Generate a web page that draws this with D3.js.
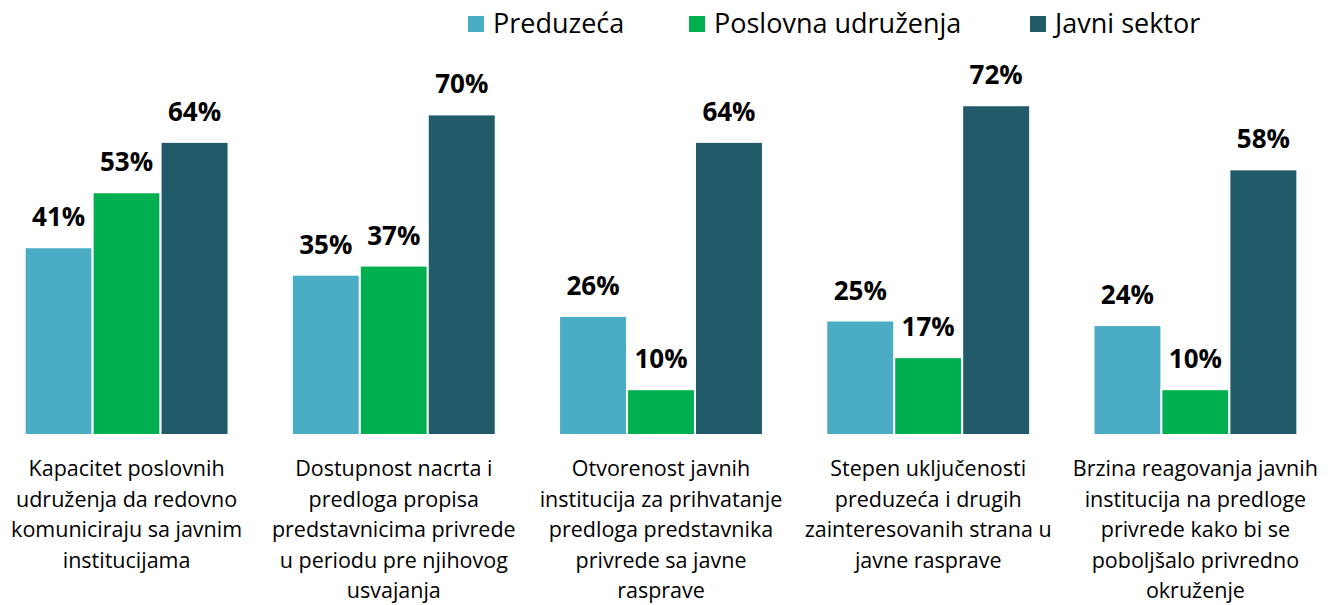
<!DOCTYPE html>
<html>
<head>
<meta charset="utf-8">
<script src="https://cdn.jsdelivr.net/npm/d3@7"></script>
<style>
  body { margin: 0; background: #fff; }
  svg { display: block; font-family: "Open Sans", "Noto Sans", sans-serif; }
</style>
</head>
<body>
<svg id="chart" width="1336" height="605"></svg>
<script>
// categories (wrapped as in the original)
var categories = [
  ["Kapacitet poslovnih", "udruženja da redovno", "komuniciraju sa javnim", "institucijama"],
  ["Dostupnost nacrta i", "predloga propisa", "predstavnicima privrede", "u periodu pre njihovog", "usvajanja"],
  ["Otvorenost javnih", "institucija za prihvatanje", "predloga predstavnika", "privrede sa javne", "rasprave"],
  ["Stepen uključenosti", "preduzeća i drugih", "zainteresovanih strana u", "javne rasprave"],
  ["Brzina reagovanja javnih", "institucija na predloge", "privrede kako bi se", "poboljšalo privredno", "okruženje"]
];
var seriesNames = ["Preduzeća", "Poslovna udruženja", "Javni sektor"];
var preduzeca = [41, 35, 26, 25, 24];
var poslovna = [53, 37, 10, 17, 10];
var javni = [64, 70, 64, 72, 58];
var colors = ["#4bacc6", "#00b050", "#215a69"];

var values = [preduzeca, poslovna, javni];

var svg = d3.select("#chart");

var x0 = d3.scaleBand()
    .domain(d3.range(categories.length))
    .range([-7, 1329])
    .paddingInner(0.237)
    .paddingOuter(0.1185);

var x1 = d3.scaleBand()
    .domain(d3.range(seriesNames.length))
    .range([0, x0.bandwidth()]);

var y = d3.scaleLinear()
    .domain([0, 100])
    .range([435, 435 - 458]);

// rows of data per category
var rows = categories.map(function(c, i) {
  return seriesNames.map(function(s, j) {
    return {cat: i, series: j, value: values[j][i]};
  });
});

var groups = svg.append("g").selectAll(".group")
    .data(rows)
    .enter().append("g")
    .attr("class", "group")
    .attr("transform", function(d, i) { return "translate(" + x0(i) + ",0)"; });

groups.selectAll("rect")
    .data(function(d) { return d; })
    .enter().append("rect")
    .attr("x", function(d) { return x1(d.series); })
    .attr("y", function(d) { return y(d.value); })
    .attr("width", x1.bandwidth())
    .attr("height", function(d) { return y(0) - y(d.value); })
    .attr("fill", function(d) { return colors[d.series]; })
    .attr("stroke", "#fff")
    .attr("stroke-width", 2);

groups.selectAll(".val")
    .data(function(d) { return d; })
    .enter().append("text")
    .attr("class", "val")
    .attr("x", function(d) { return x1(d.series) + x1.bandwidth() / 2; })
    .attr("y", function(d) { return y(d.value) - 21; })
    .attr("text-anchor", "middle")
    .attr("font-size", 26)
    .attr("font-weight", "bold")
    .attr("fill", "#000")
    .text(function(d) { return d.value + "%"; });

// category labels
svg.append("g").selectAll(".cat")
    .data(categories)
    .enter().append("text")
    .attr("class", "cat")
    .attr("text-anchor", "middle")
    .attr("font-size", 21.5)
    .attr("fill", "#000")
    .each(function(lines, i) {
      var t = d3.select(this);
      var cx = x0(i) + x0.bandwidth() / 2;
      lines.forEach(function(l, k) {
        t.append("tspan")
          .attr("x", cx)
          .attr("y", 476 + k * 30.5)
          .text(l);
      });
    });

// legend
var legendX = [468, 689, 1030];
var legend = svg.append("g").selectAll(".legend-entry")
    .data(seriesNames)
    .enter().append("g")
    .attr("class", "legend-entry")
    .attr("transform", function(d, i) { return "translate(" + legendX[i] + ",16)"; });

legend.append("rect")
    .attr("width", 16)
    .attr("height", 16)
    .attr("fill", function(d, i) { return colors[i]; });

legend.append("text")
    .attr("x", 25)
    .attr("y", 17)
    .attr("font-size", 27)
    .attr("fill", "#000")
    .text(function(d) { return d; });
</script>
</body>
</html>
